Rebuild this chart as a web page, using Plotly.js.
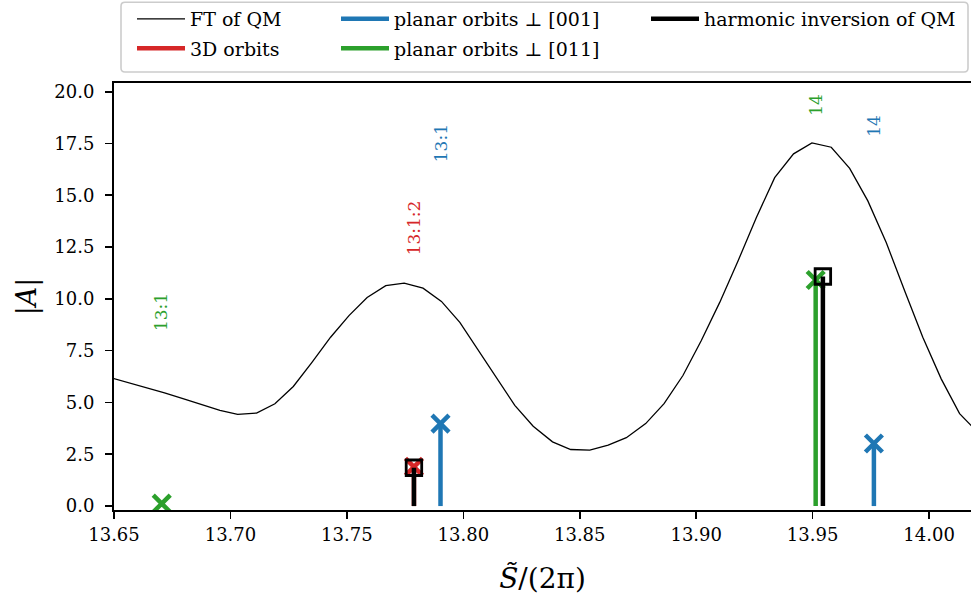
<!DOCTYPE html>
<html>
<head>
<meta charset="utf-8">
<script src="https://cdn.plot.ly/plotly-3.0.1.min.js"></script>
<style>html,body{margin:0;padding:0;background:#fff;}#chart{width:971px;height:601px;}</style>
</head>
<body>
<div id="chart"></div>
<script>
// FT of QM curve
const ftX = [13.6479, 13.6558, 13.6637, 13.6717, 13.6796, 13.6876, 13.6955, 13.7031, 13.7112, 13.7191,
             13.7270, 13.7350, 13.7430, 13.7509, 13.7587, 13.7667, 13.7746, 13.7827, 13.7906, 13.7985,
             13.8064, 13.8143, 13.8221, 13.8300, 13.8383, 13.8461, 13.8543, 13.8622, 13.8700, 13.8783,
             13.8862, 13.8943, 13.9022, 13.9101, 13.9180, 13.9258, 13.9337, 13.9418, 13.9497, 13.9580,
             13.9659, 13.9737, 13.9816, 13.9895, 13.9973, 14.0052, 14.0131, 14.0210];
const ftY = [6.22, 5.98, 5.73, 5.46, 5.18, 4.90, 4.62, 4.43, 4.49, 4.94,
             5.77, 6.94, 8.15, 9.19, 10.07, 10.64, 10.76, 10.52, 9.88, 8.87,
             7.55, 6.22, 4.86, 3.85, 3.10, 2.73, 2.70, 2.94, 3.30, 3.98,
             4.94, 6.30, 7.99, 9.83, 11.84, 13.92, 15.85, 17.00, 17.53, 17.32,
             16.30, 14.73, 12.72, 10.39, 8.15, 6.14, 4.46, 3.55];

// 3D orbits
const orb3dX = [13.7788];
const orb3dA = [1.89];
const orb3dLabel = ['13:1:2'];
const orb3dLabelY = [13.45];

// planar orbits ⊥ [001]
const p001X = [13.7902, 13.9763];
const p001A = [3.98, 3.02];
const p001Label = ['13:1', '14'];
const p001LabelY = [17.49, 18.35];

// planar orbits ⊥ [011]
const p011X = [13.6705, 13.9513];
const p011A = [0.12, 10.91];
const p011Label = ['13:1', '14'];
const p011LabelY = [9.35, 19.35];

// harmonic inversion of QM
const hiX = [13.7788, 13.9544];
const hiA = [1.85, 11.08];

const xTicks = [13.65, 13.70, 13.75, 13.80, 13.85, 13.90, 13.95, 14.00];
const yTicks = [0, 2.5, 5, 7.5, 10, 12.5, 15, 17.5, 20];

const RED = '#d62728', BLUE = '#1f77b4', GREEN = '#2ca02c', BLACK = '#000000';
const FONT = 'DejaVu Serif';

function stems(xs, as) {
  const sx = [], sy = [];
  xs.forEach((x, i) => { sx.push(x, x, null); sy.push(0, as[i], null); });
  return {x: sx, y: sy};
}

function stemTrace(xs, as, color, name, legend) {
  const s = stems(xs, as);
  return {type: 'scatter', mode: 'lines', x: s.x, y: s.y, name: name, legend: legend,
          line: {color: color, width: 4.5}, hoverinfo: 'skip'};
}
function markTrace(xs, as, color, symbol, size, lw) {
  return {type: 'scatter', mode: 'markers', x: xs, y: as, showlegend: false,
          marker: {symbol: symbol, size: size, color: color, line: {color: color, width: lw}}};
}

const traces = [
  {type: 'scatter', mode: 'lines', x: ftX, y: ftY, name: 'FT of QM', legend: 'legend',
   line: {color: BLACK, width: 1.3}},
  stemTrace(orb3dX, orb3dA, RED, '3D orbits', 'legend2'),
  markTrace(orb3dX, orb3dA, RED, 'x-thin', 17, 4.5),
  stemTrace(p001X, p001A, BLUE, 'planar orbits ⊥ [001]', 'legend3'),
  markTrace(p001X, p001A, BLUE, 'x-thin', 17, 4.5),
  stemTrace(p011X, p011A, GREEN, 'planar orbits ⊥ [011]', 'legend4'),
  markTrace(p011X, p011A, GREEN, 'x-thin', 17, 4.5),
  stemTrace(hiX, hiA, BLACK, 'harmonic inversion of QM', 'legend5'),
  markTrace(hiX, hiA, BLACK, 'square-open', 15.5, 2.8)
];

const annotations = [];
function addLabels(xs, labels, ys, color) {
  xs.forEach((x, i) => annotations.push({
    x: x, y: ys[i], xref: 'x', yref: 'y', text: labels[i], showarrow: false,
    textangle: -90, xanchor: 'center', yanchor: 'middle',
    font: {family: FONT, size: 17, color: color}
  }));
}
addLabels(p011X, p011Label, p011LabelY, GREEN);
addLabels(orb3dX, orb3dLabel, orb3dLabelY, RED);
addLabels(p001X, p001Label, p001LabelY, BLUE);

// plot area: x 114..971 px, y 82..510 px
const pw = 857, ph = 428;
function px(p) { return (p - 114) / pw; }
function py(p) { return (510 - p) / ph; }

const IW = 48;
function leg(textLeft, rowCenter) {
  return {
    bgcolor: 'rgba(0,0,0,0)', borderwidth: 0, orientation: 'v',
    xanchor: 'left', yanchor: 'top', itemwidth: IW,
    x: px(textLeft - IW - 10), y: py(rowCenter - 19),
    font: {family: FONT, size: 19, color: '#000'}
  };
}

const r = 4;
const x0 = px(121), x1 = px(968), yT = py(1), yB = py(71);
const rx = r / pw, ry = r / ph;
const framePath = `M${x0 + rx},${yT} L${x1 - rx},${yT} Q${x1},${yT} ${x1},${yT - ry} L${x1},${yB + ry} Q${x1},${yB} ${x1 - rx},${yB} L${x0 + rx},${yB} Q${x0},${yB} ${x0},${yB + ry} L${x0},${yT - ry} Q${x0},${yT} ${x0 + rx},${yT} Z`;

const layout = {
  width: 971, height: 601,
  margin: {l: 114, r: 0, t: 82, b: 91, pad: 0},
  paper_bgcolor: '#fff', plot_bgcolor: '#fff',
  font: {family: FONT, size: 18, color: '#000'},
  showlegend: true,
  legend: leg(190, 18.3),
  legend2: leg(190, 48.3),
  legend3: leg(394, 18.3),
  legend4: leg(394, 48.3),
  legend5: leg(704, 18.3),
  xaxis: {
    range: [13.65, 14.018], tickvals: xTicks, ticktext: xTicks.map(v => v.toFixed(2)),
    showline: true, linecolor: '#000', linewidth: 2, mirror: true,
    ticks: 'outside', ticklen: 7, tickwidth: 1.6, tickcolor: '#000',
    showgrid: false, zeroline: false,
    tickfont: {family: FONT, size: 18, color: '#000'},
    title: {text: '<i>S\u0303</i>/(2π)', font: {family: FONT, size: 28, color: '#000'}, standoff: 25}
  },
  yaxis: {
    range: [-0.19, 20.42], tickvals: yTicks, ticktext: yTicks.map(v => v.toFixed(1)),
    showline: true, linecolor: '#000', linewidth: 2, mirror: false,
    ticks: 'outside', ticklen: 7, tickwidth: 1.6, tickcolor: '#000',
    showgrid: false, zeroline: false, ticklabelstandoff: 7,
    tickfont: {family: FONT, size: 18, color: '#000'},
    title: {text: '|<i>A</i>|', font: {family: FONT, size: 27, color: '#000'}, standoff: 10}
  },
  annotations: annotations,
  shapes: [{type: 'path', xref: 'paper', yref: 'paper', path: framePath,
            line: {color: '#cccccc', width: 1.6}, fillcolor: 'rgba(255,255,255,0)'}]
};

Plotly.newPlot('chart', traces, layout, {staticPlot: true, displayModeBar: false});
</script>
</body>
</html>
